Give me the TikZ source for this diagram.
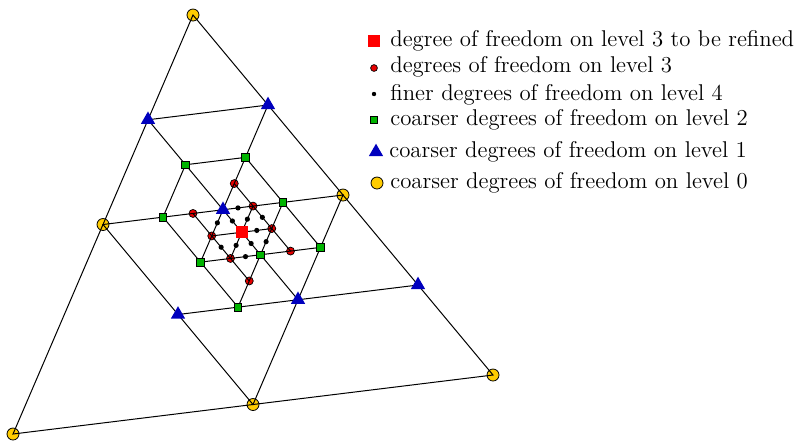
\documentclass[tikz,border=0pt]{standalone}
\usetikzlibrary{shapes.geometric}
\definecolor{dofyellow}{RGB}{255,204,0}
\definecolor{dofblue}{RGB}{0,0,190}
\definecolor{dofgreen}{RGB}{0,180,0}
\definecolor{dofred}{RGB}{230,0,0}
\definecolor{refred}{RGB}{255,0,0}
\begin{document}
\begin{tikzpicture}[
  mesh/.style={line width=0.5pt, black},
  ydof/.style={circle, draw=black, line width=0.4pt, fill=dofyellow, inner sep=0pt, minimum size=6pt},
  bdof/.style={regular polygon, regular polygon sides=3, fill=dofblue, inner sep=0pt, minimum size=8.3pt},
  gdof/.style={rectangle, draw=black, line width=0.35pt, fill=dofgreen, inner sep=0pt, minimum size=3.8pt},
  rdof/.style={circle, draw=black, line width=0.35pt, fill=dofred, inner sep=0pt, minimum size=4pt},
  kdof/.style={circle, fill=black, inner sep=0pt, minimum size=2.6pt},
  refdof/.style={rectangle, fill=refred, inner sep=0pt, minimum size=6.2pt},
  legtext/.style={anchor=base west, inner sep=0pt, font=\fontsize{11.4pt}{13.5pt}\selectfont}
]
\useasboundingbox (0,0) rectangle (397.5pt,-220.5pt);
\begin{scope}[shift={(6.5pt,-217pt)}, x={(15pt,1.84375pt)}, y={(5.625pt,13.09375pt)}]
  % level 0
  \coordinate (yA) at (0,16);
  \coordinate (yB) at (0,0);
  \coordinate (yC) at (16,0);
  \coordinate (yAB) at (0,8);
  \coordinate (yBC) at (8,0);
  \coordinate (yAC) at (8,8);
  % level 1
  \coordinate (b1) at (0,12);
  \coordinate (b2) at (4,12);
  \coordinate (b3) at (4,8);
  \coordinate (b4) at (4,4);
  \coordinate (b5) at (8,4);
  \coordinate (b6) at (12,4);
  % level 2
  \coordinate (g1) at (2,10);
  \coordinate (g2) at (4,10);
  \coordinate (g3) at (2,8);
  \coordinate (g4) at (6,8);
  \coordinate (g5) at (4,6);
  \coordinate (g6) at (8,6);
  \coordinate (g7) at (6,4);
  \coordinate (g8) at (6,6);
  % level 3
  \coordinate (r1) at (4,9);
  \coordinate (r2) at (3,8);
  \coordinate (r3) at (5,8);
  \coordinate (r4) at (6,7);
  \coordinate (r5) at (4,7);
  \coordinate (r6) at (5,6);
  \coordinate (r7) at (7,6);
  \coordinate (r8) at (6,5);
  \coordinate (ctr) at (5,7);
  % level 4
  \coordinate (k1) at (4.5,8);
  \coordinate (k2) at (4,7.5);
  \coordinate (k3) at (4.5,7.5);
  \coordinate (k4) at (5,7.5);
  \coordinate (k5) at (5.5,7.5);
  \coordinate (k6) at (5.5,7);
  \coordinate (k7) at (4.5,6.5);
  \coordinate (k8) at (5,6.5);
  \coordinate (k9) at (5.5,6.5);
  \coordinate (k10) at (5.5,6);
  \coordinate (k11) at (6,6.5);

  % markers under the mesh
  \foreach \p in {yA,yB,yC,yAB,yBC,yAC} \node[ydof] (m-\p) at (\p) {};
  \foreach \p in {r1,r2,r3,r4,r5,r6,r7,r8} \node[rdof] (m-\p) at (\p) {};

  % mesh
  \draw[mesh] (yB) -- (yC) -- (yA) -- cycle;
  \draw[mesh] (yBC) -- (yAC) -- (yAB) -- cycle;
  \draw[mesh] (b1) -- (b2);
  \draw[mesh] (b4) -- (b6);
  \draw[mesh] (g5) -- (g6);
  \draw[mesh] (g1) -- (g2);
  \draw[mesh] (r5) -- (r4);
  \draw[mesh] (b2) -- (g5);
  \draw[mesh] (g1) -- (g3);
  \draw[mesh] (g7) -- (g4);
  \draw[mesh] (r6) -- (r3);
  \draw[mesh] (b1) -- (b5);
  \draw[mesh] (g3) -- (g7);
  \draw[mesh] (g2) -- (g6);
  \draw[mesh] (r1) -- (r7);
  \draw[mesh] (r2) -- (r8);

  % markers above the mesh
  \foreach \p in {g1,g2,g3,g4,g5,g6,g7,g8} \node[gdof] (m-\p) at (\p) {};
  \foreach \p in {b1,b2,b3,b4,b5,b6} \node[bdof] (m-\p) at (\p) {};
  \foreach \p in {k1,k2,k3,k4,k5,k6,k7,k8,k9,k10,k11} \node[kdof] (m-\p) at (\p) {};
  \node[refdof] (m-ctr) at (ctr) {};
\end{scope}

% legend (pixel coordinates, 1px = 0.5pt)
\begin{scope}[x=0.5pt, y=-0.5pt]
  \node[refdof] (l1) at (374,41) {};
  \node[rdof, minimum size=3.4pt] (l2) at (374,68) {};
  \node[kdof, minimum size=2.2pt] (l3) at (374,94) {};
  \node[gdof, minimum size=3.4pt] (l4) at (374,120) {};
  \node[bdof] (l5) at (376,152) {};
  \node[ydof] (l6) at (377,183) {};
  \node[legtext] (t1) at (390,46) {degree of freedom on level 3 to be refined};
  \node[legtext] (t2) at (390,72) {degrees of freedom on level 3};
  \node[legtext] (t3) at (390,100) {finer degrees of freedom on level 4};
  \node[legtext] (t4) at (390,125) {coarser degrees of freedom on level 2};
  \node[legtext] (t5) at (389,157) {coarser degrees of freedom on level 1};
  \node[legtext] (t6) at (390,188) {coarser degrees of freedom on level 0};
\end{scope}
\end{tikzpicture}
\end{document}
